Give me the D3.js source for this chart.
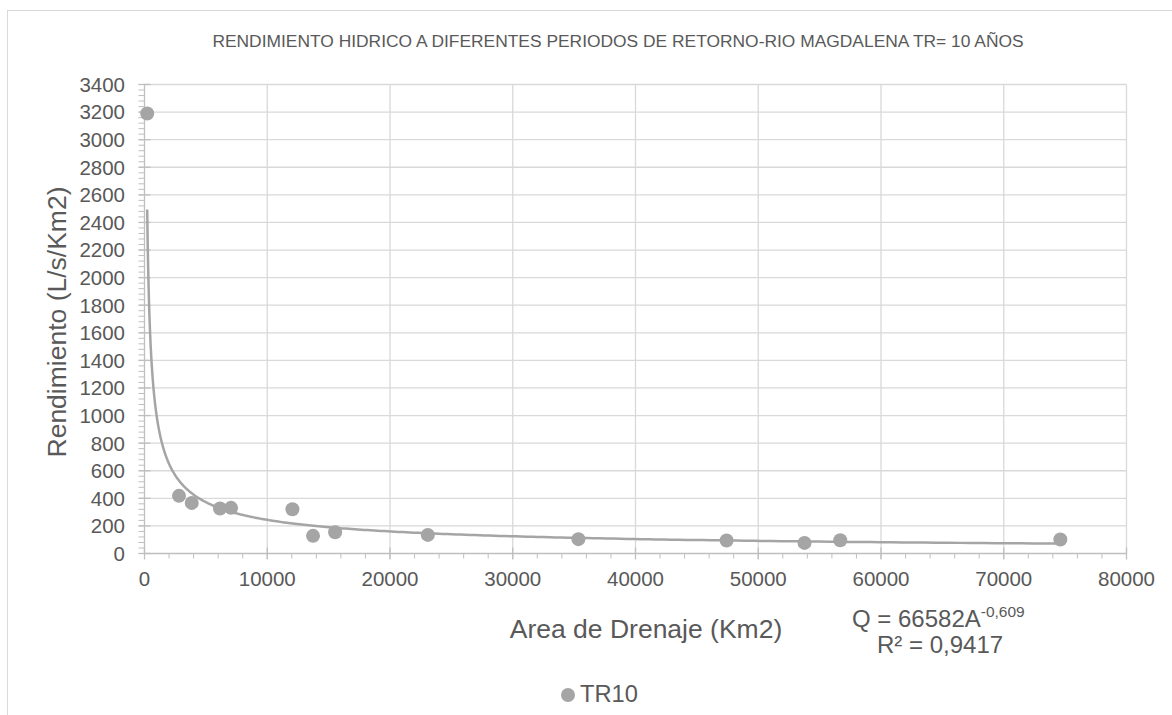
<!DOCTYPE html>
<html><head><meta charset="utf-8">
<script src="https://cdn.jsdelivr.net/npm/d3@7"></script>
<style>body{margin:0;background:#fff;font-family:"Liberation Sans",Arial,sans-serif;}</style>
</head><body><svg id="c" width="1172" height="715"></svg>
<script>
const areas = [220, 2810, 3850, 6150, 7050, 12050, 13730, 15530, 23080, 35350, 47420, 53770, 56680, 74610];
const rendimiento = [3190, 418, 367, 326, 331, 321, 128, 154, 135, 104, 94, 77, 96, 101];
const xTicks = [0,10000,20000,30000,40000,50000,60000,70000,80000];
const yTicks = d3.range(0, 3401, 200);
const trendCoef = 66582, trendExp = -0.609;
const title = "RENDIMIENTO HIDRICO A DIFERENTES PERIODOS DE RETORNO-RIO MAGDALENA TR= 10 AÑOS";

const svg = d3.select("#c");
const grey = "#595959";
svg.append("rect").attr("x",7.5).attr("y",10.5).attr("width",1180).attr("height",720)
  .attr("fill","#fff").attr("stroke","#d9d9d9");

const x = d3.scaleLinear().domain([0,80000]).range([144.5,1126.5]);
const y = d3.scaleLinear().domain([0,3400]).range([553.5,84.5]);

// gridlines
svg.append("g").selectAll("line").data(yTicks.filter(d=>d>0)).join("line")
  .attr("x1",x(0)).attr("x2",x(80000)).attr("y1",d=>y(d)).attr("y2",d=>y(d))
  .attr("stroke","#d9d9d9").attr("stroke-width",1.3);
svg.append("g").selectAll("line").data(xTicks.filter(d=>d>0)).join("line")
  .attr("x1",d=>x(d)).attr("x2",d=>x(d)).attr("y1",y(0)).attr("y2",y(3400))
  .attr("stroke","#d9d9d9").attr("stroke-width",1.3);

// minor ticks
const axc = "#bfbfbf";
svg.append("g").selectAll("line").data(d3.range(0,3401,40)).join("line")
  .attr("x1",x(0)-6).attr("x2",x(0)).attr("y1",d=>y(d)).attr("y2",d=>y(d))
  .attr("stroke",axc).attr("stroke-width",1);
svg.append("g").selectAll("line").data(d3.range(0,80001,2000)).join("line")
  .attr("x1",d=>x(d)).attr("x2",d=>x(d)).attr("y1",y(0)).attr("y2",y(0)+5)
  .attr("stroke",axc).attr("stroke-width",1);
// major ticks
svg.append("g").selectAll("line").data(yTicks).join("line")
  .attr("x1",x(0)-6).attr("x2",x(0)+6).attr("y1",d=>y(d)).attr("y2",d=>y(d))
  .attr("stroke",axc).attr("stroke-width",1.3);
svg.append("g").selectAll("line").data(xTicks).join("line")
  .attr("x1",d=>x(d)).attr("x2",d=>x(d)).attr("y1",y(0)-6).attr("y2",y(0)+6)
  .attr("stroke",axc).attr("stroke-width",1.3);
// axis lines
svg.append("line").attr("x1",x(0)).attr("x2",x(0)).attr("y1",y(0)).attr("y2",y(3400)).attr("stroke",axc).attr("stroke-width",1.3);
svg.append("line").attr("x1",x(0)).attr("x2",x(80000)).attr("y1",y(0)).attr("y2",y(0)).attr("stroke",axc).attr("stroke-width",1.3);

// tick labels
svg.append("g").selectAll("text").data(yTicks).join("text")
  .attr("x",125).attr("y",d=>y(d)).attr("dy","0.36em").attr("text-anchor","end")
  .attr("font-size",20.5).attr("fill",grey).text(d=>d);
svg.append("g").selectAll("text").data(xTicks).join("text")
  .attr("x",d=>x(d)).attr("y",586).attr("text-anchor","middle")
  .attr("font-size",20.5).attr("fill",grey).text(d=>d);

// title
svg.append("text").attr("x",618).attr("y",47).attr("text-anchor","middle")
  .attr("font-size",17.4).attr("fill",grey).text(title);
// axis titles
svg.append("text").attr("transform","translate(66,322) rotate(-90)").attr("text-anchor","middle")
  .attr("font-size",26.5).attr("fill",grey).text("Rendimiento (L/s/Km2)");
svg.append("text").attr("x",646).attr("y",638).attr("text-anchor","middle")
  .attr("font-size",26.5).attr("fill",grey).text("Area de Drenaje (Km2)");

// trendline
const xmin = d3.min(areas), xmax = d3.max(areas);
const tx = d3.range(0,401).map(i => xmin*Math.pow(xmax/xmin, i/400));
svg.append("path").datum(tx)
  .attr("d", d3.line().x(d=>x(d)).y(d=>y(trendCoef*Math.pow(d,trendExp))))
  .attr("fill","none").attr("stroke","#a5a5a5").attr("stroke-width",2.5);

// points
svg.append("g").selectAll("circle").data(areas.map((a,i)=>[a,rendimiento[i]])).join("circle")
  .attr("cx",d=>x(d[0])).attr("cy",d=>y(d[1])).attr("r",7).attr("fill","#a5a5a5");

// equation
const eq = svg.append("text").attr("x",852).attr("y",627).attr("font-size",24).attr("fill",grey);
eq.append("tspan").text("Q = 66582A");
eq.append("tspan").attr("dy",-10).attr("font-size",15.5).text("-0,609");
svg.append("text").attr("x",877).attr("y",653).attr("font-size",24).attr("fill",grey).text("R² = 0,9417");

// legend
svg.append("circle").attr("cx",568).attr("cy",695).attr("r",7).attr("fill","#a5a5a5");
svg.append("text").attr("x",580).attr("y",702).attr("font-size",23.7).attr("fill",grey).text("TR10");
</script></body></html>
